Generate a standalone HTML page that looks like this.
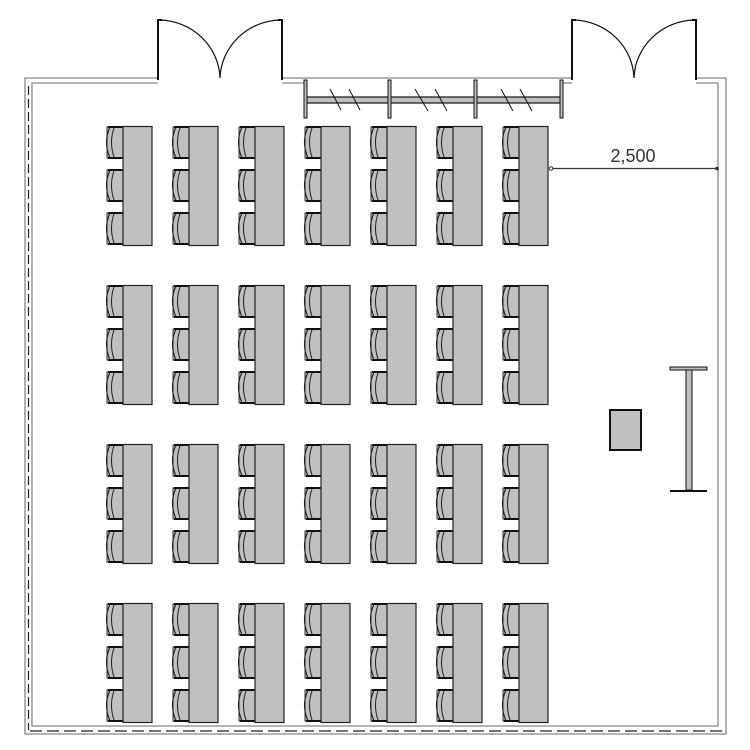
<!DOCTYPE html>
<html><head><style>html,body{margin:0;padding:0;background:#fff;}svg{display:block}</style></head>
<body>
<svg width="750" height="750" viewBox="0 0 750 750" xmlns="http://www.w3.org/2000/svg">
<defs>
<g id="ch">
  <rect x="4" y="1" width="17" height="31" fill="#c0c0c0" stroke="#333" stroke-width="1"/>
  <path d="M7,1 Q0,16 7,32" fill="none" stroke="#222" stroke-width="1.2"/>
  <path d="M11,2 Q6,16 11,31" fill="none" stroke="#222" stroke-width="1"/>
  <line x1="5" y1="1" x2="21" y2="1" stroke="#111" stroke-width="2"/>
  <line x1="5" y1="32" x2="21" y2="32" stroke="#111" stroke-width="2"/>
</g>
<g id="t">
  <use href="#ch" x="0" y="0"/>
  <use href="#ch" x="0" y="43"/>
  <use href="#ch" x="0" y="86"/>
  <rect x="20" y="0.5" width="29" height="119" fill="#c0c0c0" stroke="#222" stroke-width="1.2"/>
</g>
<g id="row">
  <use href="#t" x="0"/><use href="#t" x="66"/><use href="#t" x="132"/><use href="#t" x="198"/>
  <use href="#t" x="264"/><use href="#t" x="330"/><use href="#t" x="396"/>
</g>
</defs>
<!-- walls -->
<g fill="none" stroke="#888" stroke-width="1.3">
  <path d="M158,78 H25 V734 H726 V78 H696"/>
  <path d="M158,83 H32 V726 H718 V83 H696"/>
  <line x1="282" y1="78" x2="572" y2="78"/>
  <line x1="282" y1="83" x2="305" y2="83"/>
  <line x1="561" y1="83" x2="572" y2="83"/>
</g>
<line x1="28.5" y1="86" x2="28.5" y2="730" stroke="#222" stroke-width="1.2" stroke-dasharray="9,4"/>
<line x1="30" y1="731" x2="722" y2="731" stroke="#222" stroke-width="1.2" stroke-dasharray="12,5"/>
<!-- doors -->
<g fill="none" stroke="#111">
  <path d="M158,80 V20 H162" stroke-width="2"/>
  <path d="M282,80 V20 H278" stroke-width="2"/>
  <path d="M160,20 A62,60 0 0 1 220,78 A62,60 0 0 1 280,20" stroke-width="1.2"/>
  <path d="M572,80 V20 H576" stroke-width="2"/>
  <path d="M696,80 V20 H692" stroke-width="2"/>
  <path d="M574,20 A62,60 0 0 1 634,78 A62,60 0 0 1 694,20" stroke-width="1.2"/>
</g>
<!-- window -->
<rect x="305" y="97" width="256" height="6" fill="#c0c0c0" stroke="#111" stroke-width="1.2"/>
<g fill="#c0c0c0" stroke="#111" stroke-width="1">
  <rect x="304" y="80" width="3" height="38"/>
  <rect x="388" y="80" width="3" height="38"/>
  <rect x="474" y="80" width="3" height="38"/>
  <rect x="560" y="80" width="3" height="38"/>
</g>
<g stroke="#111" stroke-width="1">
  <line x1="330" y1="89" x2="341" y2="110"/><line x1="349" y1="89" x2="360" y2="110"/>
  <line x1="415" y1="89" x2="428" y2="111"/><line x1="435" y1="89" x2="447" y2="111"/>
  <line x1="501" y1="89" x2="513" y2="111"/><line x1="520" y1="89" x2="532" y2="111"/>
</g>
<!-- tables -->
<use href="#row" x="103" y="126"/>
<use href="#row" x="103" y="285"/>
<use href="#row" x="103" y="444"/>
<use href="#row" x="103" y="603"/>
<!-- dimension -->
<line x1="551" y1="168.5" x2="718" y2="168.5" stroke="#333" stroke-width="1.2"/>
<circle cx="551" cy="168.5" r="1.8" fill="#fff" stroke="#333"/>
<circle cx="717" cy="168.5" r="1.8" fill="#333"/>
<text x="633" y="162" font-family="Liberation Sans, sans-serif" font-size="18" fill="#333" text-anchor="middle">2,500</text>
<!-- podium -->
<rect x="610" y="410" width="31" height="40" fill="#c0c0c0" stroke="#111" stroke-width="2"/>
<rect x="670" y="367" width="37" height="3" fill="#c0c0c0" stroke="#111" stroke-width="1"/>
<rect x="686" y="370" width="6" height="120" fill="#c0c0c0" stroke="#111" stroke-width="1"/>
<line x1="670" y1="491" x2="707" y2="491" stroke="#111" stroke-width="2"/>
</svg>
</body></html>
